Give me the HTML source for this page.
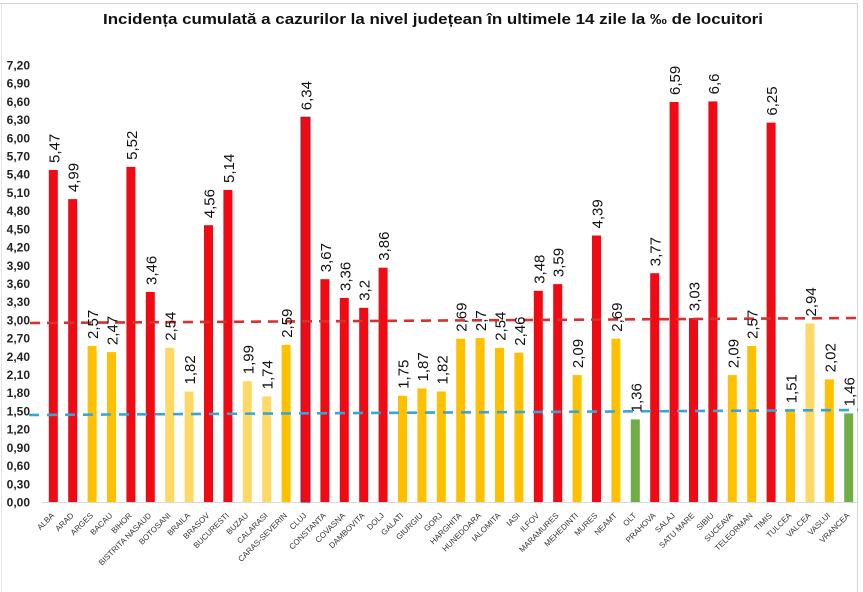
<!DOCTYPE html>
<html><head><meta charset="utf-8"><style>
html,body{margin:0;padding:0;background:#fff;}
svg{display:block;}
.yl{font-family:"Liberation Sans",sans-serif;font-size:12px;font-weight:bold;fill:#222;text-anchor:end;}
.vl{font-family:"Liberation Sans",sans-serif;font-size:15px;fill:#111;}
.xl{font-family:"Liberation Sans",sans-serif;font-size:8px;fill:#333;text-anchor:end;}
.r{fill:#f00a14;}.o{fill:#ffc000;}.y{fill:#ffd966;}.g{fill:#70ad47;}
</style></head><body>
<svg width="863" height="592" viewBox="0 0 863 592" xmlns="http://www.w3.org/2000/svg">
<rect x="0" y="0" width="863" height="592" fill="#fff"/>
<line x1="0" y1="3.5" x2="858" y2="3.5" stroke="#d4d4d4" stroke-width="1"/>
<line x1="857.5" y1="3" x2="857.5" y2="592" stroke="#d4d4d4" stroke-width="1"/>
<line x1="1.5" y1="3" x2="1.5" y2="592" stroke="#e4e4e4" stroke-width="1"/>

<text x="433" y="24" text-anchor="middle" textLength="660" lengthAdjust="spacingAndGlyphs" style="font-family:'Liberation Sans',sans-serif;font-size:14.5px;font-weight:bold;fill:#111;">Incidența cumulată a cazurilor la nivel județean în ultimele 14 zile la ‰ de locuitori</text>

<g>
<text class="yl" x="30" y="506.5">0,00</text>
<text class="yl" x="30" y="488.3">0,30</text>
<text class="yl" x="30" y="470.1">0,60</text>
<text class="yl" x="30" y="451.9">0,90</text>
<text class="yl" x="30" y="433.7">1,20</text>
<text class="yl" x="30" y="415.5">1,50</text>
<text class="yl" x="30" y="397.2">1,80</text>
<text class="yl" x="30" y="379.0">2,10</text>
<text class="yl" x="30" y="360.8">2,40</text>
<text class="yl" x="30" y="342.6">2,70</text>
<text class="yl" x="30" y="324.4">3,00</text>
<text class="yl" x="30" y="306.2">3,30</text>
<text class="yl" x="30" y="288.0">3,60</text>
<text class="yl" x="30" y="269.8">3,90</text>
<text class="yl" x="30" y="251.6">4,20</text>
<text class="yl" x="30" y="233.4">4,50</text>
<text class="yl" x="30" y="215.1">4,80</text>
<text class="yl" x="30" y="196.9">5,10</text>
<text class="yl" x="30" y="178.7">5,40</text>
<text class="yl" x="30" y="160.5">5,70</text>
<text class="yl" x="30" y="142.3">6,00</text>
<text class="yl" x="30" y="124.1">6,30</text>
<text class="yl" x="30" y="105.9">6,60</text>
<text class="yl" x="30" y="87.7">6,90</text>
<text class="yl" x="30" y="69.5">7,20</text>
</g>

<line x1="42" y1="502.5" x2="857" y2="502.5" stroke="#d9d9d9" stroke-width="1"/>

<g>
<rect class="r" x="48.8" y="170.0" width="9" height="332.0"/>
<rect class="r" x="68.2" y="199.1" width="9" height="302.9"/>
<rect class="o" x="87.6" y="346.0" width="9" height="156.0"/>
<rect class="o" x="107.0" y="352.1" width="9" height="149.9"/>
<rect class="r" x="126.4" y="166.9" width="9" height="335.1"/>
<rect class="r" x="145.8" y="292.0" width="9" height="210.0"/>
<rect class="y" x="165.2" y="347.8" width="9" height="154.2"/>
<rect class="y" x="184.6" y="391.5" width="9" height="110.5"/>
<rect class="r" x="204.0" y="225.2" width="9" height="276.8"/>
<rect class="r" x="223.4" y="190.0" width="9" height="312.0"/>
<rect class="y" x="242.8" y="381.2" width="9" height="120.8"/>
<rect class="y" x="262.2" y="396.4" width="9" height="105.6"/>
<rect class="o" x="281.6" y="344.8" width="9" height="157.2"/>
<rect class="r" x="301.0" y="117.2" width="9" height="384.8" stroke="#9a1c4c" stroke-width="1"/>
<rect class="r" x="320.4" y="279.2" width="9" height="222.8"/>
<rect class="r" x="339.8" y="298.0" width="9" height="204.0"/>
<rect class="r" x="359.2" y="307.8" width="9" height="194.2"/>
<rect class="r" x="378.6" y="267.7" width="9" height="234.3"/>
<rect class="o" x="398.0" y="395.8" width="9" height="106.2"/>
<rect class="o" x="417.4" y="388.5" width="9" height="113.5"/>
<rect class="o" x="436.8" y="391.5" width="9" height="110.5"/>
<rect class="o" x="456.2" y="338.7" width="9" height="163.3"/>
<rect class="o" x="475.6" y="338.1" width="9" height="163.9"/>
<rect class="o" x="495.0" y="347.8" width="9" height="154.2"/>
<rect class="o" x="514.4" y="352.7" width="9" height="149.3"/>
<rect class="r" x="533.8" y="290.8" width="9" height="211.2"/>
<rect class="r" x="553.2" y="284.1" width="9" height="217.9"/>
<rect class="o" x="572.6" y="375.1" width="9" height="126.9"/>
<rect class="r" x="592.0" y="235.5" width="9" height="266.5"/>
<rect class="o" x="611.4" y="338.7" width="9" height="163.3"/>
<rect class="g" x="630.8" y="419.4" width="9" height="82.6"/>
<rect class="r" x="650.2" y="273.2" width="9" height="228.8"/>
<rect class="r" x="669.6" y="102.0" width="9" height="400.0"/>
<rect class="r" x="689.0" y="318.1" width="9" height="183.9"/>
<rect class="r" x="708.4" y="101.4" width="9" height="400.6"/>
<rect class="o" x="727.8" y="375.1" width="9" height="126.9"/>
<rect class="o" x="747.2" y="346.0" width="9" height="156.0"/>
<rect class="r" x="766.6" y="122.6" width="9" height="379.4"/>
<rect class="o" x="786.0" y="410.3" width="9" height="91.7"/>
<rect class="y" x="805.4" y="323.5" width="9" height="178.5"/>
<rect class="o" x="824.8" y="379.4" width="9" height="122.6"/>
<rect class="g" x="844.2" y="413.4" width="9" height="88.6"/>
</g>

<line x1="30" y1="323" x2="858" y2="318" stroke="#d8302c" stroke-width="2.6" stroke-dasharray="10 7"/>
<line x1="29" y1="415" x2="858" y2="410" stroke="#36a6d8" stroke-width="2.6" stroke-dasharray="10 8"/>

<g>
<text class="vl" transform="translate(59.3,163.0) rotate(-90)">5,47</text>
<text class="vl" transform="translate(78.7,192.1) rotate(-90)">4,99</text>
<text class="vl" transform="translate(98.1,339.0) rotate(-90)">2,57</text>
<text class="vl" transform="translate(117.5,345.1) rotate(-90)">2,47</text>
<text class="vl" transform="translate(136.9,159.9) rotate(-90)">5,52</text>
<text class="vl" transform="translate(156.3,285.0) rotate(-90)">3,46</text>
<text class="vl" transform="translate(175.7,340.8) rotate(-90)">2,54</text>
<text class="vl" transform="translate(195.1,384.5) rotate(-90)">1,82</text>
<text class="vl" transform="translate(214.5,218.2) rotate(-90)">4,56</text>
<text class="vl" transform="translate(233.9,183.0) rotate(-90)">5,14</text>
<text class="vl" transform="translate(253.3,374.2) rotate(-90)">1,99</text>
<text class="vl" transform="translate(272.7,389.4) rotate(-90)">1,74</text>
<text class="vl" transform="translate(292.1,337.8) rotate(-90)">2,59</text>
<text class="vl" transform="translate(311.5,110.2) rotate(-90)">6,34</text>
<text class="vl" transform="translate(330.9,272.2) rotate(-90)">3,67</text>
<text class="vl" transform="translate(350.3,291.0) rotate(-90)">3,36</text>
<text class="vl" transform="translate(369.7,300.8) rotate(-90)">3,2</text>
<text class="vl" transform="translate(389.1,260.7) rotate(-90)">3,86</text>
<text class="vl" transform="translate(408.5,388.8) rotate(-90)">1,75</text>
<text class="vl" transform="translate(427.9,381.5) rotate(-90)">1,87</text>
<text class="vl" transform="translate(447.3,384.5) rotate(-90)">1,82</text>
<text class="vl" transform="translate(466.7,331.7) rotate(-90)">2,69</text>
<text class="vl" transform="translate(486.1,331.1) rotate(-90)">2,7</text>
<text class="vl" transform="translate(505.5,340.8) rotate(-90)">2,54</text>
<text class="vl" transform="translate(524.9,345.7) rotate(-90)">2,46</text>
<text class="vl" transform="translate(544.3,283.8) rotate(-90)">3,48</text>
<text class="vl" transform="translate(563.7,277.1) rotate(-90)">3,59</text>
<text class="vl" transform="translate(583.1,368.1) rotate(-90)">2,09</text>
<text class="vl" transform="translate(602.5,228.5) rotate(-90)">4,39</text>
<text class="vl" transform="translate(621.9,331.7) rotate(-90)">2,69</text>
<text class="vl" transform="translate(641.3,412.4) rotate(-90)">1,36</text>
<text class="vl" transform="translate(660.7,266.2) rotate(-90)">3,77</text>
<text class="vl" transform="translate(680.1,95.0) rotate(-90)">6,59</text>
<text class="vl" transform="translate(699.5,311.1) rotate(-90)">3,03</text>
<text class="vl" transform="translate(718.9,94.4) rotate(-90)">6,6</text>
<text class="vl" transform="translate(738.3,368.1) rotate(-90)">2,09</text>
<text class="vl" transform="translate(757.7,339.0) rotate(-90)">2,57</text>
<text class="vl" transform="translate(777.1,115.6) rotate(-90)">6,25</text>
<text class="vl" transform="translate(796.5,403.3) rotate(-90)">1,51</text>
<text class="vl" transform="translate(815.9,316.5) rotate(-90)">2,94</text>
<text class="vl" transform="translate(835.3,372.4) rotate(-90)">2,02</text>
<text class="vl" transform="translate(854.7,406.4) rotate(-90)">1,46</text>
</g>

<g>
<text class="xl" transform="translate(54.8,516) rotate(-45)">ALBA</text>
<text class="xl" transform="translate(74.2,516) rotate(-45)">ARAD</text>
<text class="xl" transform="translate(93.6,516) rotate(-45)">ARGES</text>
<text class="xl" transform="translate(113.0,516) rotate(-45)">BACAU</text>
<text class="xl" transform="translate(132.4,516) rotate(-45)">BIHOR</text>
<text class="xl" transform="translate(151.8,516) rotate(-45)">BISTRITA NASAUD</text>
<text class="xl" transform="translate(171.2,516) rotate(-45)">BOTOSANI</text>
<text class="xl" transform="translate(190.6,516) rotate(-45)">BRAILA</text>
<text class="xl" transform="translate(210.0,516) rotate(-45)">BRASOV</text>
<text class="xl" transform="translate(229.4,516) rotate(-45)">BUCURESTI</text>
<text class="xl" transform="translate(248.8,516) rotate(-45)">BUZAU</text>
<text class="xl" transform="translate(268.2,516) rotate(-45)">CALARASI</text>
<text class="xl" transform="translate(287.6,516) rotate(-45)">CARAS-SEVERIN</text>
<text class="xl" transform="translate(307.0,516) rotate(-45)">CLUJ</text>
<text class="xl" transform="translate(326.4,516) rotate(-45)">CONSTANTA</text>
<text class="xl" transform="translate(345.8,516) rotate(-45)">COVASNA</text>
<text class="xl" transform="translate(365.2,516) rotate(-45)">DAMBOVITA</text>
<text class="xl" transform="translate(384.6,516) rotate(-45)">DOLJ</text>
<text class="xl" transform="translate(404.0,516) rotate(-45)">GALATI</text>
<text class="xl" transform="translate(423.4,516) rotate(-45)">GIURGIU</text>
<text class="xl" transform="translate(442.8,516) rotate(-45)">GORJ</text>
<text class="xl" transform="translate(462.2,516) rotate(-45)">HARGHITA</text>
<text class="xl" transform="translate(481.6,516) rotate(-45)">HUNEDOARA</text>
<text class="xl" transform="translate(501.0,516) rotate(-45)">IALOMITA</text>
<text class="xl" transform="translate(520.4,516) rotate(-45)">IASI</text>
<text class="xl" transform="translate(539.8,516) rotate(-45)">ILFOV</text>
<text class="xl" transform="translate(559.2,516) rotate(-45)">MARAMURES</text>
<text class="xl" transform="translate(578.6,516) rotate(-45)">MEHEDINTI</text>
<text class="xl" transform="translate(598.0,516) rotate(-45)">MURES</text>
<text class="xl" transform="translate(617.4,516) rotate(-45)">NEAMT</text>
<text class="xl" transform="translate(636.8,516) rotate(-45)">OLT</text>
<text class="xl" transform="translate(656.2,516) rotate(-45)">PRAHOVA</text>
<text class="xl" transform="translate(675.6,516) rotate(-45)">SALAJ</text>
<text class="xl" transform="translate(695.0,516) rotate(-45)">SATU MARE</text>
<text class="xl" transform="translate(714.4,516) rotate(-45)">SIBIU</text>
<text class="xl" transform="translate(733.8,516) rotate(-45)">SUCEAVA</text>
<text class="xl" transform="translate(753.2,516) rotate(-45)">TELEORMAN</text>
<text class="xl" transform="translate(772.6,516) rotate(-45)">TIMIS</text>
<text class="xl" transform="translate(792.0,516) rotate(-45)">TULCEA</text>
<text class="xl" transform="translate(811.4,516) rotate(-45)">VALCEA</text>
<text class="xl" transform="translate(830.8,516) rotate(-45)">VASLUI</text>
<text class="xl" transform="translate(850.2,516) rotate(-45)">VRANCEA</text>
</g>
</svg>
</body></html>
